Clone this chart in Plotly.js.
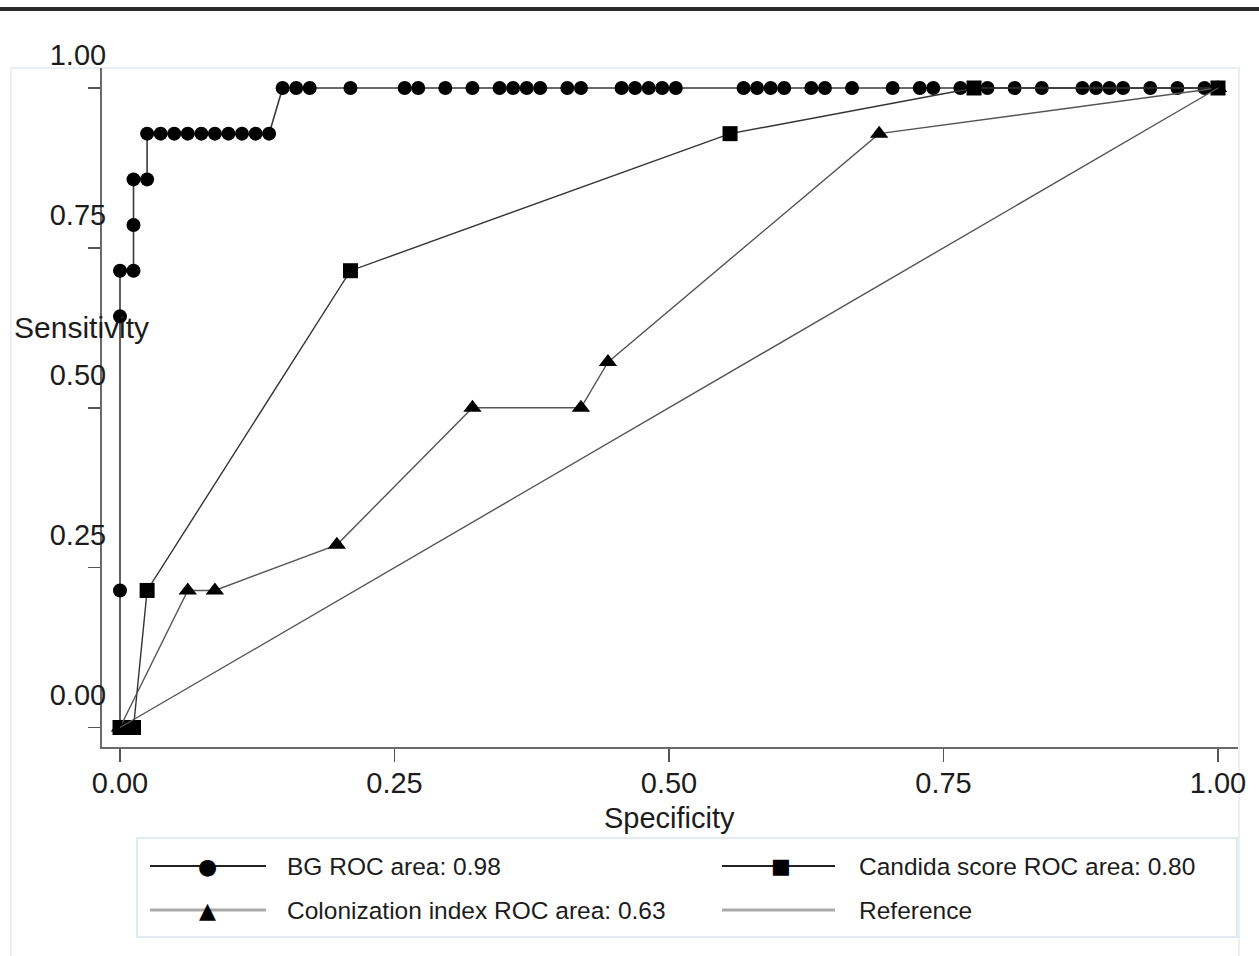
<!DOCTYPE html>
<html>
<head>
<meta charset="utf-8">
<script src="https://cdn.plot.ly/plotly-3.0.1.min.js"></script>
<style>html,body{margin:0;padding:0;background:#fff;}#chart{width:1259px;height:956px;}</style>
</head>
<body>
<div id="chart"></div>
<script>
// ---- data (1 - specificity on x, sensitivity on y) ----
const bgX = [0, 0, 0, 0, 0.0123, 0.0123, 0.0123, 0.0247, 0.0247,
  0.0370, 0.0494, 0.0617, 0.0741, 0.0864, 0.0988, 0.1111, 0.1235, 0.1358,
  0.1481, 0.1605, 0.1728, 0.2099, 0.2593, 0.2716, 0.2963, 0.3210, 0.3457, 0.3580,
  0.3704, 0.3827, 0.4074, 0.4198, 0.4568, 0.4691, 0.4815, 0.4938, 0.5062,
  0.5679, 0.5802, 0.5926, 0.6049, 0.6296, 0.6420, 0.6667, 0.7037, 0.7284,
  0.7407, 0.7654, 0.7778, 0.7901, 0.8148, 0.8395, 0.8765, 0.8889, 0.9012,
  0.9136, 0.9383, 0.9630, 0.9877, 1.0];
const bgY = [0, 0.2143, 0.6429, 0.7143, 0.7143, 0.7857, 0.8571, 0.8571, 0.9286,
  0.9286, 0.9286, 0.9286, 0.9286, 0.9286, 0.9286, 0.9286, 0.9286, 0.9286,
  1, 1, 1, 1, 1, 1, 1, 1, 1, 1,
  1, 1, 1, 1, 1, 1, 1, 1, 1,
  1, 1, 1, 1, 1, 1, 1, 1, 1,
  1, 1, 1, 1, 1, 1, 1, 1, 1,
  1, 1, 1, 1, 1];
const candX = [0, 0.0123, 0.0247, 0.2099, 0.5556, 0.7778, 1.0];
const candY = [0, 0, 0.2143, 0.7143, 0.9286, 1, 1];
const colX = [0, 0.0617, 0.0864, 0.1975, 0.3210, 0.4198, 0.4444, 0.6914, 1.0];
const colY = [0, 0.2143, 0.2143, 0.2857, 0.5, 0.5, 0.5714, 0.9286, 1];
const refX = [0, 1];
const refY = [0, 1];
const seriesNames = ["BG ROC area: 0.98", "Candida score ROC area: 0.80",
  "Colonization index ROC area: 0.63", "Reference"];
const tickVals = [0, 0.25, 0.5, 0.75, 1];
const tickText = ["0.00", "0.25", "0.50", "0.75", "1.00"];
const xTitle = "Specificity";
const yTitle = "Sensitivity";

// ---- layout geometry (pixels) ----
const W = 1259, H = 956;
const L = 102, R = 1238, T = 68, B = 747;
const px = v => (v - L) / (R - L);
const py = v => (B - v) / (B - T);
const FONT = "Liberation Sans, Arial, sans-serif";
const TXT = "#1c1c1c";

const traces = [
  {x: bgX, y: bgY, name: seriesNames[0], mode: "lines+markers",
   line: {color: "#3a3a3a", width: 1.6},
   marker: {symbol: "circle", size: 14, color: "#000"}},
  {x: candX, y: candY, name: seriesNames[1], mode: "lines+markers",
   line: {color: "#333", width: 1.4},
   marker: {symbol: "square", size: 15, color: "#000"}},
  {x: colX, y: colY, name: seriesNames[2], mode: "lines+markers",
   line: {color: "#555", width: 1.4},
   marker: {symbol: "triangle-up", size: 16, color: "#000"}},
  {x: refX, y: refY, name: seriesNames[3], mode: "lines",
   line: {color: "#555", width: 1.4}}
].map(t => Object.assign(t, {showlegend: false, hoverinfo: "skip", cliponaxis: false}));

// custom Stata-style legend
const legRows = [866, 910];
const legCols = [{l0: 150, l1: 266, m: 207, t: 285}, {l0: 722, l1: 835, m: 781, t: 857}];
const legItems = [
  {r: 0, c: 0, color: "#222", w: 2, glyph: "●", gs: 22},
  {r: 0, c: 1, color: "#222", w: 2, glyph: "■", gs: 21},
  {r: 1, c: 0, color: "#aaa", w: 3, glyph: "▲", gs: 22},
  {r: 1, c: 1, color: "#aaa", w: 3, glyph: "", gs: 0}
];

const shapes = [
  // light outer frame
  {type: "rect", xref: "paper", yref: "paper", x0: px(11), x1: px(1239), y0: py(990), y1: py(68),
   line: {color: "#e2eaf1", width: 1.5}, layer: "below"},
  // heavy top rule
  {type: "line", xref: "paper", yref: "paper", x0: px(0), x1: px(1259), y0: py(9), y1: py(9),
   line: {color: "#2b2b2b", width: 4}},
  // legend box
  {type: "rect", xref: "paper", yref: "paper", x0: px(137), x1: px(1237), y0: py(937), y1: py(838),
   line: {color: "#e2eaf1", width: 2}}
];
const annotations = [
  {text: yTitle, xref: "paper", yref: "paper", x: px(12), y: py(327), xanchor: "left", yanchor: "middle",
   showarrow: false, font: {family: FONT, size: 30, color: TXT}},
  {text: xTitle, xref: "paper", yref: "paper", x: px(669), y: py(818), xanchor: "center", yanchor: "middle",
   showarrow: false, font: {family: FONT, size: 29, color: TXT}}
];
legItems.forEach((it, i) => {
  const c = legCols[it.c], yy = py(legRows[it.r]);
  shapes.push({type: "line", xref: "paper", yref: "paper", x0: px(c.l0), x1: px(c.l1), y0: yy, y1: yy,
    line: {color: it.color, width: it.w}});
  if (it.glyph) annotations.push({text: it.glyph, xref: "paper", yref: "paper", x: px(c.m), y: yy,
    xanchor: "center", yanchor: "middle", showarrow: false,
    font: {family: "DejaVu Sans", size: it.gs, color: "#000"}});
  annotations.push({text: seriesNames[i], xref: "paper", yref: "paper", x: px(c.t), y: yy,
    xanchor: "left", yanchor: "middle", showarrow: false,
    font: {family: FONT, size: 24.5, color: TXT}});
});

const layout = {
  width: W, height: H,
  margin: {l: L, r: W - R, t: T, b: H - B, pad: 0},
  paper_bgcolor: "#fff", plot_bgcolor: "#fff",
  showlegend: false,
  font: {family: FONT, color: TXT},
  xaxis: {
    range: [(L - 120) / 1098, (R - 120) / 1098],
    tickvals: tickVals, ticktext: tickText,
    ticks: "outside", ticklen: 13, tickwidth: 1.5, tickcolor: "#555",
    showline: true, linecolor: "#6a6a6a", linewidth: 2, mirror: false,
    showgrid: false, zeroline: false,
    tickfont: {family: FONT, size: 29, color: TXT},
    ticklabelstandoff: -4
  },
  yaxis: {
    range: [(727.5 - B) / 639.5, (727.5 - T) / 639.5],
    tickvals: tickVals, ticktext: tickText,
    ticks: "outside", ticklen: 12, tickwidth: 1.5, tickcolor: "#555",
    showline: true, linecolor: "#6a6a6a", linewidth: 2, mirror: false,
    showgrid: false, zeroline: false,
    tickfont: {family: FONT, size: 29, color: TXT},
    ticklabelshift: -33, ticklabelstandoff: -24
  },
  shapes: shapes,
  annotations: annotations
};

Plotly.newPlot("chart", traces, layout, {staticPlot: true, displayModeBar: false});
</script>
</body>
</html>
